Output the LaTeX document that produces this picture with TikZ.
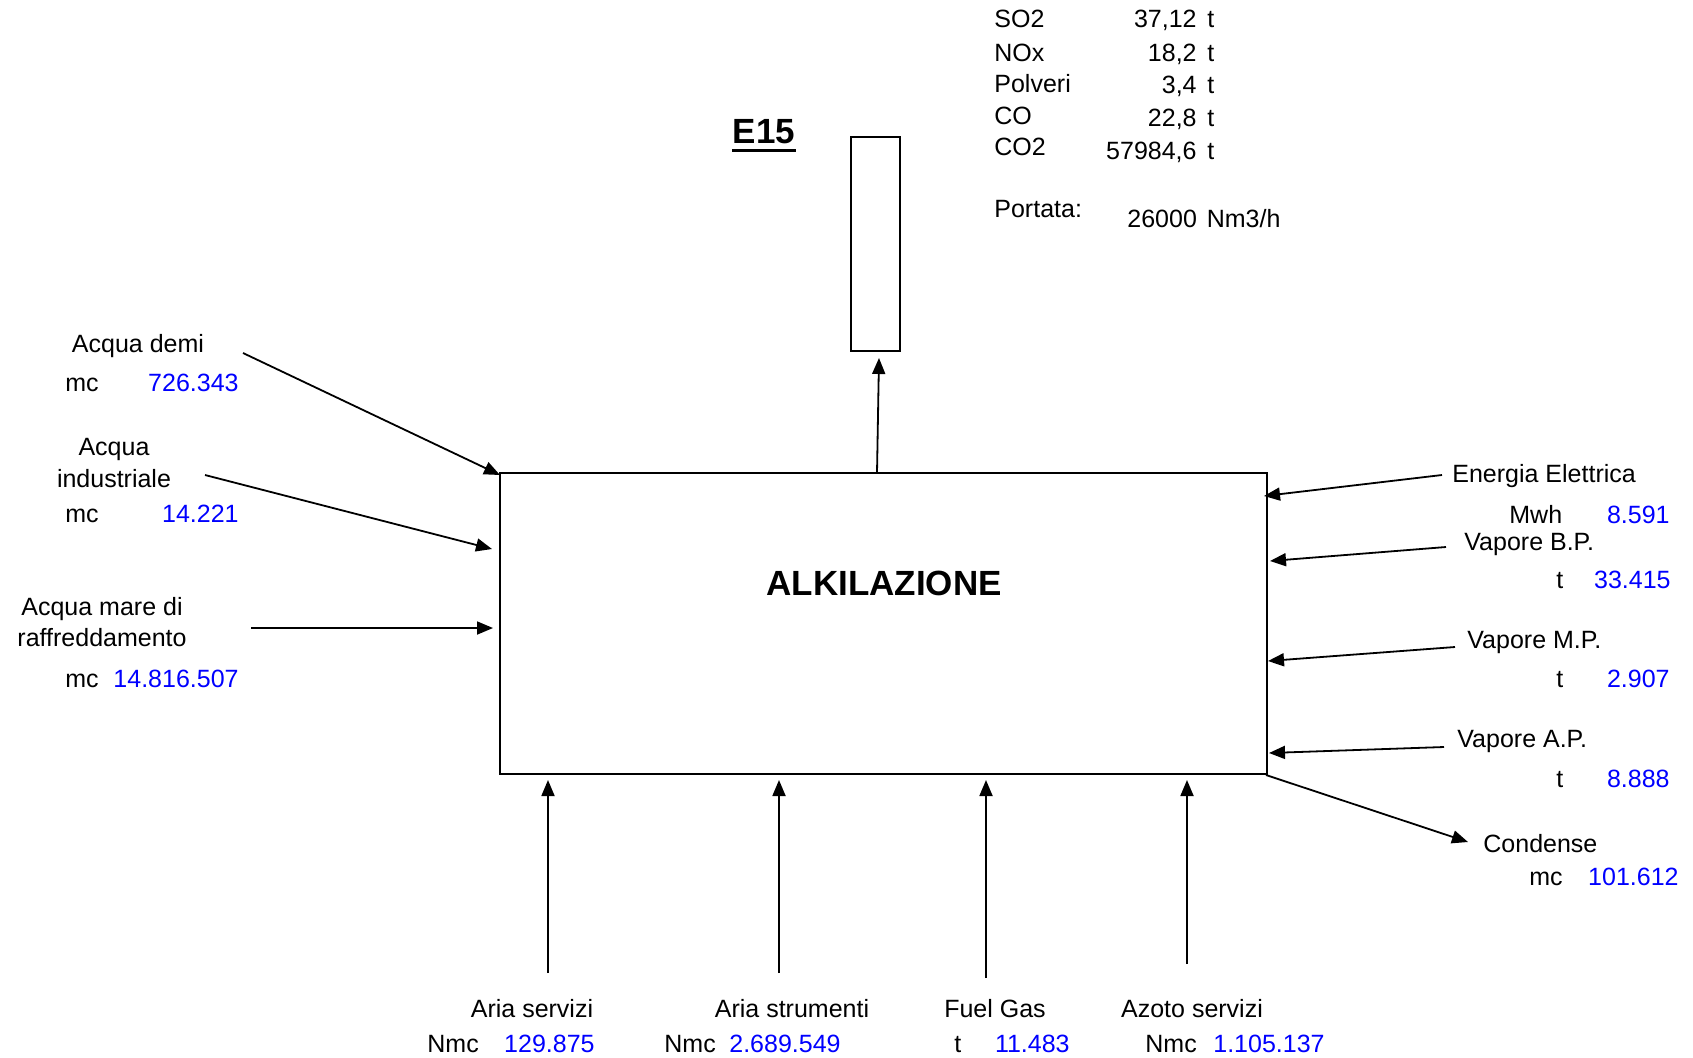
\documentclass[tikz,border=0pt]{standalone}
\usepackage{fontspec}
\setmainfont{Liberation Sans}
\usetikzlibrary{arrows.meta}
\definecolor{numblue}{RGB}{0,0,255}
\begin{document}
\begin{tikzpicture}[x=0.5pt,y=-0.5pt,
  lbl/.style={inner sep=0pt, font=\fontsize{12.5}{15}\selectfont},
  val/.style={lbl, text=numblue},
  bigb/.style={inner sep=0pt, font=\fontsize{17.5}{20}\selectfont\bfseries},
  flow/.style={line width=0.9pt, -{Triangle[length=8pt,width=6.5pt]}},
  boxst/.style={draw, line width=0.9pt, inner sep=0pt}]
\path[use as bounding box, fill=white] (0,0) rectangle (1693,1057);

% main boxes
\node[boxst, minimum width=383.5pt, minimum height=150.5pt] (alk) at (883.5,623.5) {};
\node[bigb, anchor=base] (alkt) at (884,595) {ALKILAZIONE};
\node[boxst, minimum width=24.65pt, minimum height=107pt] (stack) at (875.3,243.7) {};
\node[bigb, anchor=base] (e15) at (764,143) {E15};
\draw[line width=1.5pt] ([yshift=-3.5pt]e15.base west) -- ([yshift=-3.5pt]e15.base east);

% emissions table
\node[lbl, anchor=base west] (so2) at (994,27) {SO2};
\node[lbl, anchor=base east] (so2v) at (1197,27) {37,12};
\node[lbl, anchor=base west] (so2u) at (1207,27) {t};
\node[lbl, anchor=base west] (nox) at (994,61) {NOx};
\node[lbl, anchor=base east] (noxv) at (1197,61) {18,2};
\node[lbl, anchor=base west] (noxu) at (1207,61) {t};
\node[lbl, anchor=base west] (pol) at (994,92) {Polveri};
\node[lbl, anchor=base east] (polv) at (1197,93) {3,4};
\node[lbl, anchor=base west] (polu) at (1207,93) {t};
\node[lbl, anchor=base west] (co) at (994,124) {CO};
\node[lbl, anchor=base east] (cov) at (1197,126) {22,8};
\node[lbl, anchor=base west] (cou) at (1207,126) {t};
\node[lbl, anchor=base west] (co2) at (994,155) {CO2};
\node[lbl, anchor=base east] (co2v) at (1197,159) {57984,6};
\node[lbl, anchor=base west] (co2u) at (1207,159) {t};
\node[lbl, anchor=base west] (port) at (994,217) {Portata:};
\node[lbl, anchor=base west] (portv) at (1127,227) {26000\hspace{0.12em} Nm3/h};

% left labels
\node[lbl, anchor=base] (demi) at (138,352) {Acqua demi};
\node[lbl, anchor=base west] (demiu) at (65,391) {mc};
\node[val, anchor=base east] (demiv) at (239,391) {726.343};
\node[lbl, anchor=base] (ind1) at (114,455) {Acqua};
\node[lbl, anchor=base] (ind2) at (114,487) {industriale};
\node[lbl, anchor=base west] (indu) at (65,522) {mc};
\node[val, anchor=base east] (indv) at (239,522) {14.221};
\node[lbl, anchor=base] (mar1) at (102,615) {Acqua mare di};
\node[lbl, anchor=base] (mar2) at (102,646) {raffreddamento};
\node[lbl, anchor=base west] (maru) at (65,687) {mc};
\node[val, anchor=base east] (marv) at (239,687) {14.816.507};

% right labels
\node[lbl, anchor=base west] (ee) at (1452,482) {Energia Elettrica};
\node[lbl, anchor=base west] (eeu) at (1509,523) {Mwh};
\node[val, anchor=base east] (eev) at (1670,523) {8.591};
\node[lbl, anchor=base west] (bp) at (1464,550) {Vapore B.P.};
\node[lbl, anchor=base west] (bpu) at (1556,588) {t};
\node[val, anchor=base east] (bpv) at (1671,588) {33.415};
\node[lbl, anchor=base west] (mp) at (1467,648) {Vapore M.P.};
\node[lbl, anchor=base west] (mpu) at (1556,687) {t};
\node[val, anchor=base east] (mpv) at (1670,687) {2.907};
\node[lbl, anchor=base west] (ap) at (1457,747) {Vapore A.P.};
\node[lbl, anchor=base west] (apu) at (1556,787) {t};
\node[val, anchor=base east] (apv) at (1670,787) {8.888};
\node[lbl, anchor=base west] (cond) at (1483,852) {Condense};
\node[lbl, anchor=base west] (condu) at (1529,885) {mc};
\node[val, anchor=base east] (condv) at (1679,885) {101.612};

% bottom labels
\node[lbl, anchor=base] (as) at (532,1017) {Aria servizi};
\node[lbl, anchor=base west] (asu) at (427,1052) {Nmc};
\node[val, anchor=base east] (asv) at (595,1052) {129.875};
\node[lbl, anchor=base] (ast) at (792,1017) {Aria strumenti};
\node[lbl, anchor=base west] (astu) at (664,1052) {Nmc};
\node[val, anchor=base east] (astv) at (841,1052) {2.689.549};
\node[lbl, anchor=base] (fg) at (995,1017) {Fuel Gas};
\node[lbl, anchor=base west] (fgu) at (954,1052) {t};
\node[val, anchor=base east] (fgv) at (1070,1052) {11.483};
\node[lbl, anchor=base] (az) at (1192,1017) {Azoto servizi};
\node[lbl, anchor=base west] (azu) at (1145,1052) {Nmc};
\node[val, anchor=base east] (azv) at (1325,1052) {1.105.137};

% connector ends
\coordinate (s1) at (243,353); \coordinate (t1) at (500,475);
\coordinate (s2) at (205,475); \coordinate (t2) at (492,549);
\coordinate (s3) at (251,628); \coordinate (t3) at (493,628);
\coordinate (s4) at (877,473); \coordinate (t4) at (879,358);
\coordinate (s5) at (1442,475); \coordinate (t5) at (1264,496);
\coordinate (s6) at (1446,547); \coordinate (t6) at (1270,561);
\coordinate (s7) at (1455,647); \coordinate (t7) at (1268,661);
\coordinate (s8) at (1444,747); \coordinate (t8) at (1269,753);
\coordinate (s9) at (1266,775); \coordinate (t9) at (1468,842);
\coordinate (b1s) at (548,973); \coordinate (b1t) at (548,780);
\coordinate (b2s) at (779,973); \coordinate (b2t) at (779,780);
\coordinate (b3s) at (986,978); \coordinate (b3t) at (986,780);
\coordinate (b4s) at (1187,964); \coordinate (b4t) at (1187,780);

\draw[flow] (s1) -- (t1);
\draw[flow] (s2) -- (t2);
\draw[flow] (s3) -- (t3);
\draw[flow] (s4) -- (t4);
\draw[flow] (s5) -- (t5);
\draw[flow] (s6) -- (t6);
\draw[flow] (s7) -- (t7);
\draw[flow] (s8) -- (t8);
\draw[flow] (s9) -- (t9);
\draw[flow] (b1s) -- (b1t);
\draw[flow] (b2s) -- (b2t);
\draw[flow] (b3s) -- (b3t);
\draw[flow] (b4s) -- (b4t);
\end{tikzpicture}
\end{document}
